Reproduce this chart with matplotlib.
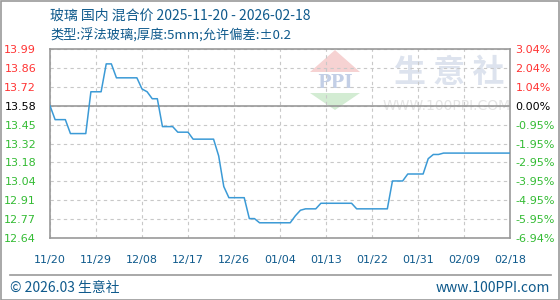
import numpy as np
import pandas as pd
import matplotlib
matplotlib.use("Agg")
import matplotlib.pyplot as plt
from matplotlib.patches import Polygon, Rectangle

plt.rcParams['font.family'] = ['DejaVu Sans', 'Noto Sans CJK SC']
CJK = ['Noto Sans CJK SC', 'DejaVu Sans']

# daily mixed price of float glass, 2025-11-20 .. 2026-02-18
dates = pd.date_range('2025-11-20', '2026-02-18', freq='D')
prices = [
    13.58, 13.48, 13.48, 13.48, 13.38, 13.38, 13.38, 13.38, 13.68, 13.68,
    13.68, 13.88, 13.88, 13.78, 13.78, 13.78, 13.78, 13.78, 13.70, 13.68,
    13.63, 13.63, 13.43, 13.43, 13.43, 13.39, 13.39, 13.39, 13.34, 13.34,
    13.34, 13.34, 13.34, 13.22, 13.00, 12.92, 12.92, 12.92, 12.92, 12.77,
    12.77, 12.74, 12.74, 12.74, 12.74, 12.74, 12.74, 12.74, 12.79, 12.83,
    12.84, 12.84, 12.84, 12.88, 12.88, 12.88, 12.88, 12.88, 12.88, 12.88,
    12.84, 12.84, 12.84, 12.84, 12.84, 12.84, 12.84, 13.04, 13.04, 13.04,
    13.09, 13.09, 13.09, 13.09, 13.20, 13.23, 13.23, 13.24, 13.24, 13.24,
    13.24, 13.24, 13.24, 13.24, 13.24, 13.24, 13.24, 13.24, 13.24, 13.24,
    13.24,
]

base = 13.58
price_labels = ['12.64', '12.77', '12.91', '13.04', '13.18', '13.32',
                '13.45', '13.58', '13.72', '13.86', '13.99']
pct_labels = ['-6.94%', '-5.95%', '-4.95%', '-3.95%', '-2.95%', '-1.95%',
              '-0.95%', '0.00%', '1.04%', '2.04%', '3.04%']
xtick_labels = ['11/20', '11/29', '12/08', '12/17', '12/26', '01/04',
                '01/13', '01/22', '01/31', '02/09', '02/18']

RED = '#ff3333'
GREEN = '#33bb33'
BLUE_TXT = '#0f5a8c'
LINE = '#3b9ad6'

step = 0.1356
ytick_pos = base + step * (np.arange(11) - 7)

fig = plt.figure(figsize=(5.6, 3.0), dpi=100)

# watermark, drawn in figure pixel coords
wm = fig.add_axes([0, 0, 1, 1], zorder=-1)
wm.set_xlim(0, 560)
wm.set_ylim(300, 0)
wm.axis('off')
wm.add_patch(Polygon([[310, 72], [360, 72], [335, 50]], closed=True,
                     color='#f6d2d2', lw=0))
wm.add_patch(Polygon([[310, 93], [360, 93], [335, 110]], closed=True,
                     color='#d3ecd3', lw=0))
wm.text(335, 83, 'PPI', ha='center', va='center', fontsize=13,
        color='#c3cfe6', fontweight='bold', family='DejaVu Serif')
wm.text(449, 73, '生 意 社', ha='center', va='center', fontsize=23,
        color='#dde3ee', family=CJK, fontweight='bold')
wm.text(447, 106, 'WWW.100PPI.COM', ha='center', va='center', fontsize=10,
        color='#e4e4e4')

ax = fig.add_axes([50 / 560, 1 - 238 / 300, 460 / 560, 189 / 300])
ax.set_facecolor('none')
ax.plot(dates, prices, color=LINE, lw=1.1, zorder=3)

ax.set_ylim(ytick_pos[0], ytick_pos[-1])
ax.set_xlim(dates[0], dates[-1])
ax.set_xticks(dates[::9])
ax.set_xticklabels(xtick_labels, fontsize=8, color=BLUE_TXT)
ax.set_yticks(ytick_pos)
ax.set_yticklabels(price_labels, fontsize=8)
ax.tick_params(axis='x', length=0, pad=12)
ax.tick_params(axis='y', length=0, pad=10)

for i, t in enumerate(ax.get_yticklabels()):
    t.set_color(GREEN if i < 7 else ('black' if i == 7 else RED))

ax.grid(True, color='#c8c8c8', ls=(0, (3, 3)), lw=0.8)
ax.axhline(base, color='#999999', lw=1.2, zorder=2)
for s in ax.spines.values():
    s.set_color('#999999')
    s.set_linewidth(1.2)

ax2 = ax.twinx()
ax2.set_ylim(ax.get_ylim())
ax2.set_yticks(ytick_pos)
ax2.set_yticklabels(pct_labels, fontsize=8)
ax2.tick_params(axis='y', length=0, pad=4)
for i, t in enumerate(ax2.get_yticklabels()):
    t.set_color(GREEN if i < 7 else ('black' if i == 7 else RED))
for s in ax2.spines.values():
    s.set_visible(False)

# titles
fig.text(50 / 560, 1 - 16 / 300, '玻璃 国内 混合价 2025-11-20 - 2026-02-18',
         fontsize=10, color=BLUE_TXT, va='center', family=CJK)
fig.text(50 / 560, 1 - 36 / 300, '类型:浮法玻璃;厚度:5mm;允许偏差:±0.2',
         fontsize=9.5, color=BLUE_TXT, va='center', family=CJK)

# footer
fig.text(10 / 560, 1 - 288 / 300, '© 2026.03 生意社', fontsize=10,
         color=BLUE_TXT, va='center', family=CJK)
fig.text(550 / 560, 1 - 288 / 300, 'www.100PPI.com', fontsize=10,
         color=BLUE_TXT, va='center', ha='right', family=CJK)

# frame and separator
fig.add_artist(plt.Line2D([10 / 560, 551 / 560], [1 - 275 / 300] * 2,
                          color='#999999', lw=1.2))
fig.add_artist(Rectangle((0.5 / 560, 0.5 / 300), 558.5 / 560, 298.5 / 300,
                         fill=False, ec='#999999', lw=1.2,
                         transform=fig.transFigure))

fig.savefig('out.png', dpi=100)
